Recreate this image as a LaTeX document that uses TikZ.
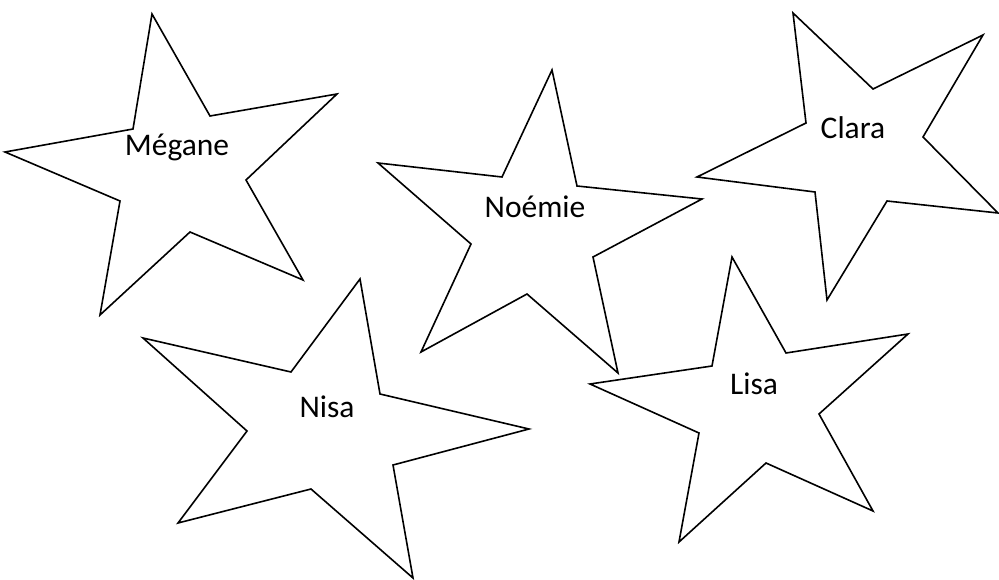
\documentclass[tikz,border=0pt]{standalone}
\usepackage{fontspec}
\setmainfont{Carlito}
\begin{document}
\begin{tikzpicture}[x=1pt,y=-1pt,
  starline/.style={draw=black,line width=1.6pt,line join=miter,fill=white},
  lbl/.style={font=\fontsize{31.5}{36}\selectfont,inner sep=0pt,anchor=center}]
\useasboundingbox[fill=white] (0,0) rectangle (999,580);
% Megane
\draw[starline] (152,14) -- (210,116) -- (337,94) -- (246,180) -- (303,280) -- (190,232) -- (100,315) -- (120,201) -- (5,152) -- (133,129) -- cycle;
\node[lbl] (megane) at (177,147) {Mégane};
% Noemie
\draw[starline] (552,70) -- (577,186) -- (702,199) -- (593,257) -- (618,373) -- (527,294) -- (421,352) -- (471,244) -- (378,163) -- (502,177) -- cycle;
\node[lbl] (noemie) at (535,207) {Noémie};
% Clara
\draw[starline] (793,13) -- (873,89) -- (983,35) -- (923,137) -- (998,213) -- (887,201) -- (827,300) -- (815,192) -- (697,177) -- (806,123) -- cycle;
\node[lbl] (clara) at (853,128) {Clara};
% Nisa
\draw[starline] (360,279) -- (380,394) -- (529,429) -- (393,465) -- (413,578) -- (311,489) -- (178,523) -- (247,431) -- (143,338) -- (291,372) -- cycle;
\node[lbl] (nisa) at (327,407) {Nisa};
% Lisa
\draw[starline] (732,257) -- (786,353) -- (908,334) -- (819,414) -- (873,511) -- (766,463) -- (679,542) -- (699,433) -- (590,384) -- (712,366) -- cycle;
\node[lbl] (lisa) at (754,384) {Lisa};
\end{tikzpicture}
\end{document}
